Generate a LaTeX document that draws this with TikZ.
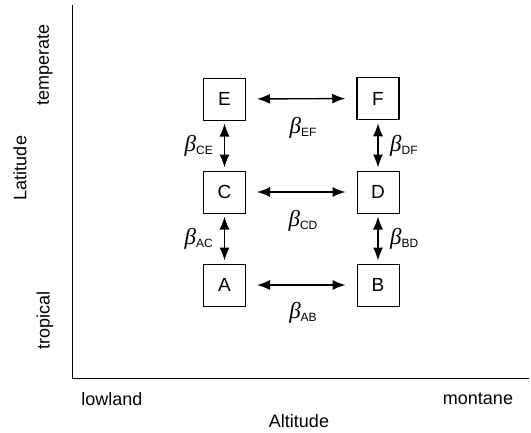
\documentclass[tikz,border=0pt]{standalone}
\usepackage{fontspec}
\setmainfont{Liberation Sans}
\newfontfamily\serifgreek{Liberation Serif}
\usetikzlibrary{arrows.meta}
\newcommand{\blab}[1]{{\fontsize{23}{23}\selectfont\serifgreek\itshape β}\raisebox{-3pt}{\fontsize{12}{12}\selectfont #1}}
\tikzset{
  box/.style={draw, line width=1pt, minimum size=42pt, inner sep=0pt, font=\fontsize{19}{19}\selectfont},
  dbl/.style={{Latex[length=13pt,width=10pt]}-{Latex[length=13pt,width=10pt]}, line width=1.4pt},
  hz/.style={dbl, shorten <=11pt, shorten >=11pt},
  vt/.style={dbl, shorten <=3pt, shorten >=3pt},
  axtxt/.style={font=\fontsize{18}{18}\selectfont, inner sep=0pt},
  blabel/.style={inner sep=0pt}
}
\begin{document}
\begin{tikzpicture}[x=1pt,y=-1pt]
\useasboundingbox (0,0) rectangle (531,432);
% axes
\coordinate (top) at (72,5);
\coordinate (orig) at (72,378);
\coordinate (right) at (529,378);
\draw[line width=1pt] (top) -- (orig) -- (right);
% axis texts
\node[axtxt] (lowland) at (112,399) {lowland};
\node[axtxt] (montane) at (478,399) {montane};
\node[axtxt] (altitude) at (299,421) {Altitude};
\node[axtxt, rotate=90] (temperate) at (45,65) {temperate};
\node[axtxt, rotate=90] (tropical) at (45,320) {tropical};
\node[axtxt, rotate=90] (latitude) at (20,168) {Latitude};
% boxes
\node[box] (E) at (224.5,99) {E};
\node[box, line width=1.5pt] (F) at (378,98.5) {F};
\node[box] (C) at (224.5,192) {C};
\node[box] (D) at (378,192) {D};
\node[box] (A) at (224.5,285) {A};
\node[box] (B) at (378,285) {B};
% arrows
\draw[hz] (E) -- (F);
\draw[hz] (C) -- (D);
\draw[hz] (A) -- (B);
\draw[vt] (E) -- (C);
\draw[vt] (C) -- (A);
\draw[vt] (F) -- (D);
\draw[vt] (D) -- (B);
% labels
\node[blabel] (lEF) at (303,128) {\blab{EF}};
\node[blabel] (lCD) at (303,221) {\blab{CD}};
\node[blabel] (lAB) at (303,313) {\blab{AB}};
\node[blabel, anchor=east] (lCE) at (213,146) {\blab{CE}};
\node[blabel, anchor=east] (lAC) at (213,239) {\blab{AC}};
\node[blabel, anchor=west] (lDF) at (390,146) {\blab{DF}};
\node[blabel, anchor=west] (lBD) at (390,239) {\blab{BD}};
\end{tikzpicture}
\end{document}
